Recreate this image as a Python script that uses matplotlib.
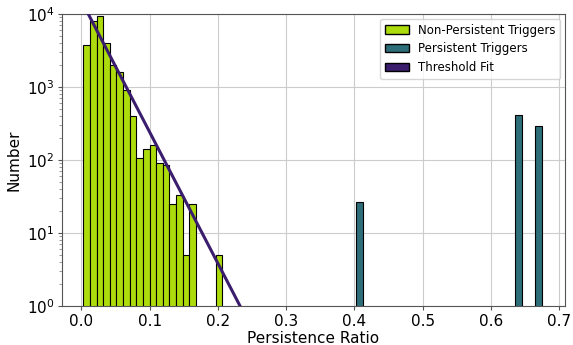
import numpy as np
import matplotlib
matplotlib.use("Agg")
from matplotlib import pyplot as plt
from matplotlib.patches import Patch

# bin width and bar data
width = 0.0097
np_lefts = [0.003 + k * width for k in range(17)] + [0.197]
np_counts = [3800, 8100, 9500, 4000, 2000, 1620, 910, 405, 107, 140, 162,
             92, 85, 25, 33, 5, 25, 5]
p_lefts = [0.4023, 0.636, 0.665]
p_counts = [27, 420, 290]

# threshold fit: log10(N) = a - b*x
fit_a, fit_b = 4.185, 18.0

green = "#addc0c"
teal = "#2e6e79"
purple = "#3b1d6e"

fig = plt.figure(figsize=(5.73, 3.45), dpi=100)
ax = fig.add_axes([0.108, 0.113, 0.878, 0.846])

ax.bar(np_lefts, np_counts, width=width, align="edge", color=green,
       edgecolor="black", linewidth=0.8, zorder=2)
ax.bar(p_lefts, p_counts, width=width, align="edge", color=teal,
       edgecolor="black", linewidth=0.8, zorder=2)

xf = np.linspace(0, 0.3, 200)
ax.plot(xf, 10 ** (fit_a - fit_b * xf), color=purple, lw=2.2, zorder=3)

ax.set_yscale("log")
ax.set_ylim(1, 1e4)
ax.set_xlim(-0.0285, 0.7085)
ax.grid(True, color="#cccccc", lw=0.8, zorder=0)
ax.set_axisbelow(True)
for s in ax.spines.values():
    s.set_color("#555555")
ax.tick_params(labelsize=11, colors="#555555", labelcolor="black",
               length=3, pad=2.5)
ax.tick_params(which="minor", colors="#888888", length=2)
ax.set_xlabel("Persistence Ratio", fontsize=11, labelpad=2)
ax.set_ylabel("Number", fontsize=11, labelpad=4)

handles = [Patch(facecolor=green, edgecolor="black", label="Non-Persistent Triggers"),
           Patch(facecolor=teal, edgecolor="black", label="Persistent Triggers"),
           Patch(facecolor=purple, edgecolor="black", label="Threshold Fit")]
ax.legend(handles=handles, loc="upper right", fontsize=8.5,
          borderaxespad=0.4)

fig.savefig("out.png", dpi=100)
